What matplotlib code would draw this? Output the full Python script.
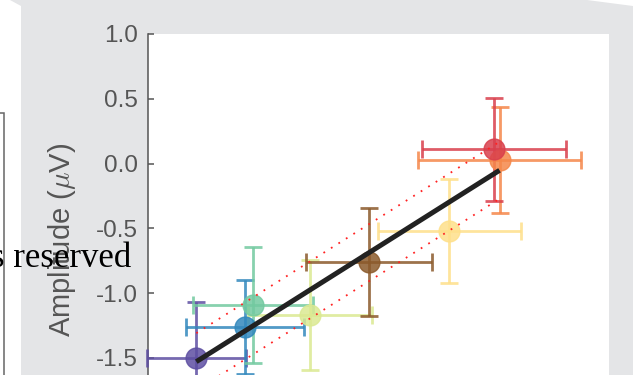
import numpy as np
import matplotlib
matplotlib.use('Agg')
import matplotlib.pyplot as plt
from matplotlib.patches import Polygon, Rectangle

plt.rcParams['font.family'] = ['Liberation Sans', 'DejaVu Sans']
plt.rcParams['mathtext.fontset'] = 'cm'
plt.rcParams['axes.unicode_minus'] = False

# group means with their spread in both directions
x_vals = [-1.63, -1.26, -1.20, -0.77, -0.32, 0.29, 0.67, 0.63]
y_vals = [-1.50, -1.26, -1.09, -1.17, -0.76, -0.52, 0.03, 0.11]
x_err = [0.375, 0.45, 0.455, 0.47, 0.475, 0.54, 0.62, 0.545]
y_err = [0.43, 0.365, 0.445, 0.425, 0.415, 0.405, 0.41, 0.40]
colors = ['#5e4fa2', '#3288bd', '#72c9a0', '#dbe992', '#8b5a2b', '#fee08b', '#f5874a', '#d93f4c']
band = 0.22
yticks = [-1.5, -1.0, -0.5, 0.0, 0.5, 1.0]

W, H = 639, 375
fig = plt.figure(figsize=(W / 100, H / 100), dpi=100, facecolor='white')

def fx(px):
    return px / W

def fy(py):
    return 1 - py / H

# grey backdrop behind the axes
panel = Polygon([(fx(10), fy(0)), (fx(587), fy(0)), (fx(633), fy(6)), (fx(633), fy(H)),
                 (fx(21), fy(H)), (fx(21), fy(6))], closed=True,
                transform=fig.transFigure, facecolor='#e4e5e7', edgecolor='none', zorder=-2)
fig.patches.append(panel)
box = Rectangle((fx(-60), fy(420)), fx(63.5), fy(113) - fy(420), transform=fig.transFigure,
                facecolor='white', edgecolor='#666666', lw=1.1, zorder=-2)
fig.patches.append(box)

px_per_unit = 129.6
ylo, yhi = -2.5, 1.0
ax_h = (yhi - ylo) * px_per_unit
ax = fig.add_axes([fx(147.5), fy(34 + ax_h), fx(609) - fx(147.5), ax_h / H])
ax.set_facecolor('white')
ax.set_xlim(-2.0, 1.5)
ax.set_ylim(ylo, yhi)

for xv, yv, xe, ye, c in zip(x_vals, y_vals, x_err, y_err, colors):
    ax.errorbar(xv, yv, xerr=xe, yerr=ye, fmt='o', color=c, mec=c, ms=15, lw=2,
                capsize=6.5, capthick=2, alpha=0.85, clip_on=False, zorder=3)

# least-squares fit and its band
slope, icpt = np.polyfit(x_vals, y_vals, 1)
xs = np.array([min(x_vals), max(x_vals)])
fit = slope * xs + icpt
ax.plot(xs, fit, color='#222222', lw=3.6, solid_capstyle='butt', zorder=5)
ax.plot(xs, fit + band, color='#ff2222', lw=1.3, ls=(0, (1, 3.9)), zorder=6)
ax.plot(xs, fit - band, color='#ff2222', lw=1.3, ls=(0, (1, 3.9)), zorder=6)

for s in ['top', 'right', 'bottom']:
    ax.spines[s].set_visible(False)
ax.spines['left'].set_color('#555555')
ax.spines['left'].set_linewidth(1.1)
ax.set_xticks([])
ax.set_yticks(yticks)
ax.set_yticklabels(['%.1f' % t for t in yticks])
ax.tick_params(axis='y', direction='in', length=4, width=1.1, color='#555555',
               labelcolor='#555555', labelsize=17.5, pad=7)
ax.set_ylabel('Amplitude ($\\mu$V)', fontsize=21, color='#555555')
ax.yaxis.set_label_coords(-0.1506, (240 - (34 + ax_h)) / -ax_h)

fig.text(fx(131), fy(267), 's reserved', ha='right', va='baseline', fontsize=25,
         family='Liberation Serif', color='black', zorder=10)

fig.savefig('out.png', dpi=100, facecolor=fig.get_facecolor())
